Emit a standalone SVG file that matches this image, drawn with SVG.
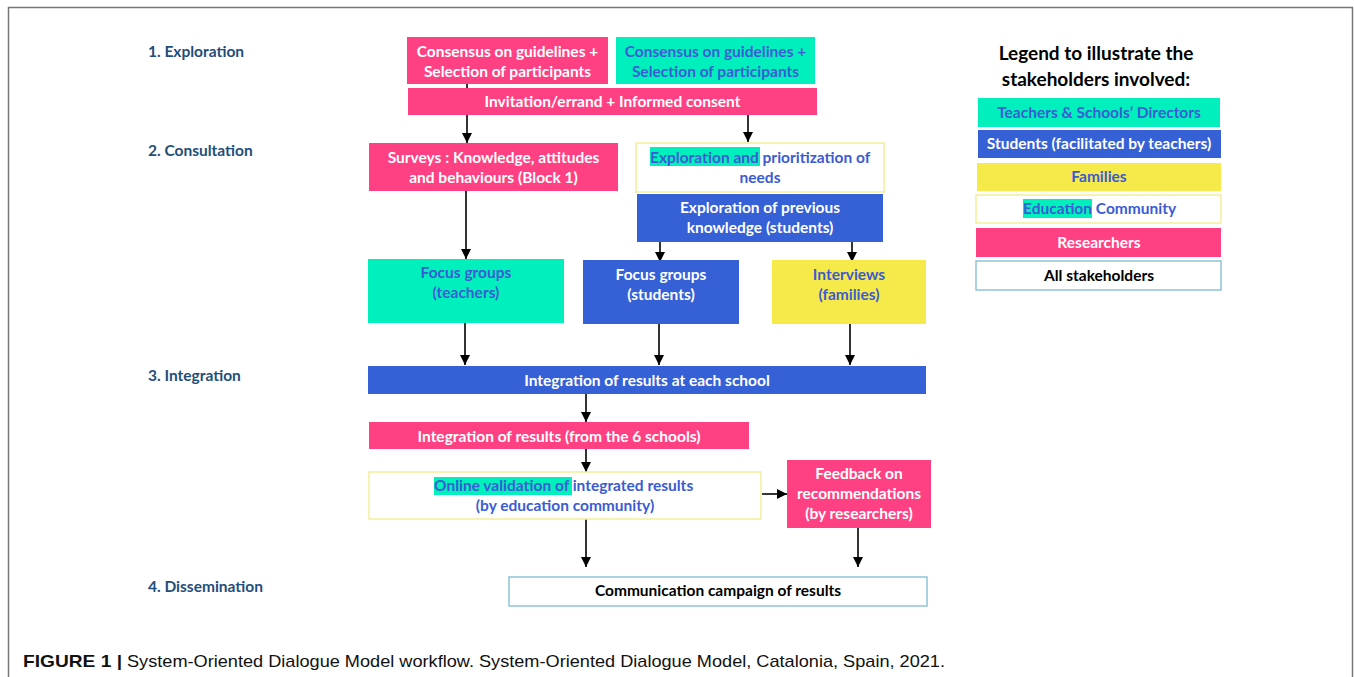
<svg xmlns="http://www.w3.org/2000/svg" width="1354" height="677" viewBox="0 0 1354 677">
<defs>
<marker id="ah" markerWidth="10" markerHeight="10" refX="10" refY="5" orient="auto" markerUnits="userSpaceOnUse">
<path d="M0,0 L10,5 L0,10 Z" fill="#000"/>
</marker>
<style>
.t{font-family:Lato,"Open Sans","Liberation Sans",sans-serif;font-weight:bold;font-size:15.5px;text-anchor:middle}
.s{text-anchor:start}
.w{fill:#fff}
.b{fill:#3a5bd4}
.k{fill:#000}
.stage{font-family:Lato,"Open Sans","Liberation Sans",sans-serif;font-weight:bold;font-size:15.5px;fill:#1f4e79}
.pink{fill:#ff4184}
.teal{fill:#00f0bd}
.blue{fill:#3560d6}
.yel{fill:#f6ea4a}
.wy{fill:#fff;stroke:#f2ee9a;stroke-width:1.5}
.wb{fill:#fff;stroke:#8ec3d6;stroke-width:1.5}
.hl{fill:#00f0bd}
.c line{stroke:#000;stroke-width:1.6}
</style>
</defs>
<rect x="0" y="0" width="1354" height="677" fill="#fff"/>
<path d="M8.5,690 V7.5 H1353" fill="none" stroke="#777" stroke-width="1.5"/>
<path d="M1352.5,7.5 V690" fill="none" stroke="#777" stroke-width="1.5"/>

<g id="stages">
<text class="stage" x="148" y="57">1. Exploration</text>
<text class="stage" x="148" y="156">2. Consultation</text>
<text class="stage" x="148" y="381">3. Integration</text>
<text class="stage" x="148" y="592">4. Dissemination</text>
</g>

<g class="c" id="connectors">
<line x1="467" y1="84" x2="467" y2="88"/>
<line x1="467" y1="115" x2="467" y2="143" marker-end="url(#ah)"/>
<line x1="748" y1="115" x2="748" y2="142" marker-end="url(#ah)"/>
<line x1="466" y1="191" x2="466" y2="259" marker-end="url(#ah)"/>
<line x1="660" y1="242" x2="660" y2="262" marker-end="url(#ah)"/>
<line x1="852" y1="242" x2="852" y2="262" marker-end="url(#ah)"/>
<line x1="465" y1="323" x2="465" y2="365" marker-end="url(#ah)"/>
<line x1="659" y1="324" x2="659" y2="365" marker-end="url(#ah)"/>
<line x1="850" y1="324" x2="850" y2="365" marker-end="url(#ah)"/>
<line x1="586" y1="394" x2="586" y2="422" marker-end="url(#ah)"/>
<line x1="586" y1="449" x2="586" y2="472" marker-end="url(#ah)"/>
<line x1="762" y1="494" x2="787" y2="494" marker-end="url(#ah)"/>
<line x1="586" y1="519" x2="586" y2="567" marker-end="url(#ah)"/>
<line x1="858" y1="528" x2="858" y2="567" marker-end="url(#ah)"/>
</g>

<g id="consensus-researchers">
<rect class="pink" x="407" y="37" width="201" height="47"/>
<text class="t w" x="507.5" y="57">Consensus on guidelines +</text>
<text class="t w" x="507.5" y="77">Selection of participants</text>
</g>
<g id="consensus-teachers">
<rect class="teal" x="616" y="37" width="199" height="47"/>
<text class="t b" x="715.5" y="57">Consensus on guidelines +</text>
<text class="t b" x="715.5" y="77">Selection of participants</text>
</g>
<g id="invitation">
<rect class="pink" x="408" y="88" width="409" height="27"/>
<text class="t w" x="612.5" y="107">Invitation/errand + Informed consent</text>
</g>
<g id="surveys">
<rect class="pink" x="369" y="143" width="249" height="48"/>
<text class="t w" x="493.5" y="163">Surveys : Knowledge, attitudes</text>
<text class="t w" x="493.5" y="183">and behaviours (Block 1)</text>
</g>
<g id="exploration-needs">
<rect class="wy" x="636" y="143" width="248" height="49"/>
<rect class="hl" x="650" y="147" width="110" height="19"/>
<text class="t b s" x="650" y="163">Exploration and prioritization of</text>
<text class="t b" x="760" y="183">needs</text>
</g>
<g id="exploration-knowledge">
<rect class="blue" x="637" y="194" width="246" height="48"/>
<text class="t w" x="760" y="213">Exploration of previous</text>
<text class="t w" x="760" y="233">knowledge (students)</text>
</g>
<g id="focus-teachers">
<rect class="teal" x="368" y="259" width="196" height="64"/>
<text class="t b" x="466" y="278">Focus groups</text>
<text class="t b" x="466" y="298">(teachers)</text>
</g>
<g id="focus-students">
<rect class="blue" x="583" y="260" width="156" height="64"/>
<text class="t w" x="661" y="280">Focus groups</text>
<text class="t w" x="661" y="300">(students)</text>
</g>
<g id="interviews">
<rect class="yel" x="772" y="260" width="154" height="64"/>
<text class="t b" x="849" y="280">Interviews</text>
<text class="t b" x="849" y="300">(families)</text>
</g>
<g id="integration-school">
<rect class="blue" x="368" y="366" width="558" height="28"/>
<text class="t w" x="647" y="386">Integration of results at each school</text>
</g>
<g id="integration-six">
<rect class="pink" x="369" y="422" width="380" height="27"/>
<text class="t w" x="559" y="442">Integration of results (from the 6 schools)</text>
</g>
<g id="online-validation">
<rect class="wy" x="369" y="472" width="392" height="47"/>
<rect class="hl" x="434" y="477" width="138" height="18"/>
<text class="t b s" x="434" y="491">Online validation of integrated results</text>
<text class="t b" x="565" y="511">(by education community)</text>
</g>
<g id="feedback">
<rect class="pink" x="787" y="460" width="144" height="68"/>
<text class="t w" x="859" y="479">Feedback on</text>
<text class="t w" x="859" y="499">recommendations</text>
<text class="t w" x="859" y="519">(by researchers)</text>
</g>
<g id="communication">
<rect class="wb" x="509" y="577" width="418" height="29"/>
<text class="t k" x="718" y="596">Communication campaign of results</text>
</g>

<g id="legend">
<text class="t k" style="font-size:19px" x="1096" y="60">Legend to illustrate the</text>
<text class="t k" style="font-size:19px" x="1096" y="86">stakeholders involved:</text>
<rect class="teal" x="978" y="98" width="242" height="29"/>
<text class="t b" x="1099" y="118">Teachers &amp; Schools’ Directors</text>
<rect class="blue" x="978" y="130" width="243" height="28"/>
<text class="t w" x="1099" y="149">Students (facilitated by teachers)</text>
<rect class="yel" x="977" y="163" width="244" height="28"/>
<text class="t b" x="1099" y="182">Families</text>
<rect class="wy" x="976" y="195" width="245" height="28"/>
<rect class="hl" x="1023" y="199" width="69" height="19"/>
<text class="t b s" x="1023" y="214">Education Community</text>
<rect class="pink" x="976" y="228" width="245" height="29"/>
<text class="t w" x="1099" y="248">Researchers</text>
<rect class="wb" x="976" y="261" width="245" height="29"/>
<text class="t k" x="1099" y="281">All stakeholders</text>
</g>

<g id="caption">
<text x="23" y="667" style="font-family:'Liberation Sans',Arial,sans-serif;font-size:17px;fill:#111"><tspan font-weight="bold" textLength="99" lengthAdjust="spacingAndGlyphs">FIGURE 1 |</tspan><tspan x="127" textLength="818" lengthAdjust="spacingAndGlyphs">System-Oriented Dialogue Model workflow. System-Oriented Dialogue Model, Catalonia, Spain, 2021.</tspan></text>
</g>
</svg>
